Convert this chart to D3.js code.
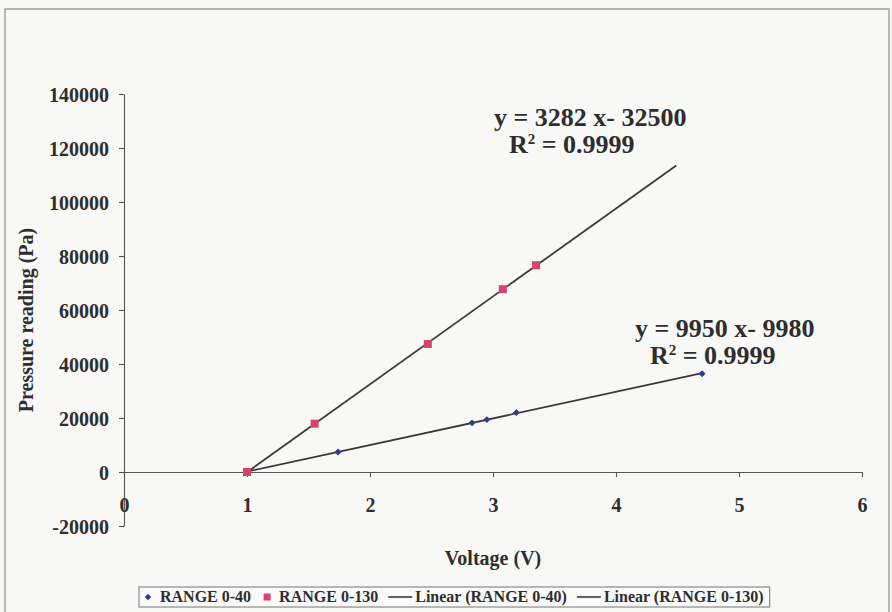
<!DOCTYPE html>
<html>
<head>
<meta charset="utf-8">
<script src="https://cdn.jsdelivr.net/npm/d3@7"></script>
<style>
  body { margin: 0; background: #f8f8f6; }
  text { font-family: "Liberation Serif", "Times New Roman", serif; font-weight: bold; fill: #2e2e2e; }
</style>
</head>
<body>
<svg id="chart" width="892" height="612"></svg>
<script>
/*
    data
*/
var voltage040 = [1.00, 1.74, 2.83, 2.95, 3.19, 4.70];
var pressure040 = [0, 7400, 18200, 19400, 22000, 36400];
var voltage0130 = [1.00, 1.55, 2.47, 3.08, 3.35];
var pressure0130 = [0, 17900, 47400, 67700, 76600];
var trendEnd = [4.70, 4.49];
var xTicks = [0, 1, 2, 3, 4, 5, 6];
var yTicks = [-20000, 0, 20000, 40000, 60000, 80000, 100000, 120000, 140000];
var eqText = ["y = 9950 x- 9980", "y = 3282 x- 32500"];
var r2Text = ["0.9999", "0.9999"];
var legendNames = ["RANGE 0-40", "RANGE 0-130", "Linear (RANGE 0-40)", "Linear (RANGE 0-130)"];

var blue = "#2a3d8f", red = "#d8436c", lineCol = "#3a3a3a";

var svg = d3.select("#chart");

var x = d3.scaleLinear().domain([0, 6]).range([124, 862]);
var y = d3.scaleLinear().domain([-20000, 140000]).range([526, 94]);

// outer chart frame
svg.append("rect")
    .attr("x", 5).attr("y", 9)
    .attr("width", 884).attr("height", 640)
    .attr("fill", "none")
    .attr("stroke", "#8a8a8a")
    .attr("stroke-width", 1.2);

/*
    axes
*/
var yAxis = svg.append("g")
    .attr("transform", "translate(" + x(0) + ",0)")
    .call(d3.axisLeft(y).tickValues(yTicks).tickSize(5).tickPadding(10).tickSizeOuter(0)
        .tickFormat(function(d){ return String(d) }));
yAxis.selectAll("text").style("font-size", "20px").attr("dy", "0.35em");

var xAxis = svg.append("g")
    .attr("transform", "translate(0," + y(0) + ")")
    .call(d3.axisBottom(x).tickValues(xTicks).tickSize(5).tickPadding(0).tickSizeOuter(0)
        .tickFormat(function(d){ return String(d) }));
xAxis.selectAll("text").style("font-size", "20px").attr("y", 40).attr("dy", 0);

svg.selectAll(".domain, .tick line")
    .attr("stroke", "#555")
    .attr("stroke-width", 1.1);

svg.append("text")
    .attr("transform", "translate(33," + 320 + ") rotate(-90)")
    .attr("text-anchor", "middle")
    .style("font-size", "20px")
    .text("Pressure reading (Pa)");

svg.append("text")
    .attr("x", x(3)).attr("y", 565)
    .attr("text-anchor", "middle")
    .style("font-size", "20px")
    .text("Voltage (V)");

/*
    least squares trendlines
*/
function fit(xs, ys){
    var mx = d3.mean(xs), my = d3.mean(ys);
    var sxy = d3.sum(xs, function(d, i){ return (d - mx) * (ys[i] - my) });
    var sxx = d3.sum(xs, function(d){ return (d - mx) * (d - mx) });
    var m = sxy / sxx;
    return {m: m, b: my - m * mx};
}

var sets = [
    {xs: voltage040, ys: pressure040},
    {xs: voltage0130, ys: pressure0130}
];

sets.forEach(function(s, i){
    var f = fit(s.xs, s.ys);
    var x0 = d3.min(s.xs), x1 = trendEnd[i];
    svg.append("line")
        .attr("x1", x(x0)).attr("y1", y(f.m * x0 + f.b))
        .attr("x2", x(x1)).attr("y2", y(f.m * x1 + f.b))
        .attr("stroke", lineCol)
        .attr("stroke-width", 1.8);
});

// markers
svg.selectAll(".ptB")
    .data(d3.zip(voltage040, pressure040))
    .enter().append("path")
    .attr("class", "ptB")
    .attr("d", d3.symbol().type(d3.symbolDiamond2).size(30))
    .attr("transform", function(d){ return "translate(" + x(d[0]) + "," + y(d[1]) + ")" })
    .attr("fill", blue);

svg.selectAll(".ptR")
    .data(d3.zip(voltage0130, pressure0130))
    .enter().append("rect")
    .attr("class", "ptR")
    .attr("x", function(d){ return x(d[0]) - 4 })
    .attr("y", function(d){ return y(d[1]) - 4 })
    .attr("width", 8).attr("height", 8)
    .attr("fill", red);

/*
    trendline equations (anchored in data units)
*/
var eqPos = [[4.154, 50000], [3.008, 128150]];
eqPos.forEach(function(p, i){
    svg.append("text")
        .attr("x", x(p[0])).attr("y", y(p[1]))
        .style("font-size", "26px")
        .text(eqText[i]);
    var r = svg.append("text")
        .attr("x", x(p[0]) + 15).attr("y", y(p[1]) + 27)
        .style("font-size", "26px");
    r.append("tspan").text("R");
    r.append("tspan").attr("dy", -9).style("font-size", "15px").text("2");
    r.append("tspan").attr("dy", 9).text(" = " + r2Text[i]);
});

/*
    legend
*/
var legend = svg.append("g");
var lx = 148, ly = 597;
var box = legend.append("rect")
    .attr("y", 587).attr("height", 20)
    .attr("fill", "#fafafa")
    .attr("stroke", "#8a8a8a")
    .attr("stroke-width", 1.2);

legendNames.forEach(function(name, i){
    if(i == 0){
        legend.append("path")
            .attr("d", d3.symbol().type(d3.symbolDiamond2).size(26))
            .attr("transform", "translate(" + lx + "," + ly + ")")
            .attr("fill", blue);
        lx += 12;
    } else if(i == 1){
        legend.append("rect")
            .attr("x", lx - 3.5).attr("y", ly - 3.5)
            .attr("width", 7).attr("height", 7)
            .attr("fill", red);
        lx += 12;
    } else {
        legend.append("line")
            .attr("x1", lx - 6).attr("x2", lx + 18)
            .attr("y1", ly).attr("y2", ly)
            .attr("stroke", lineCol).attr("stroke-width", 1.6);
        lx += 21;
    }
    var t = legend.append("text")
        .attr("x", lx).attr("y", ly + 5)
        .style("font-size", "16px")
        .text(name);
    lx += t.node().getComputedTextLength() + 16;
});
box.attr("x", 139).attr("width", lx - 139 - 10);
</script>
</body>
</html>
